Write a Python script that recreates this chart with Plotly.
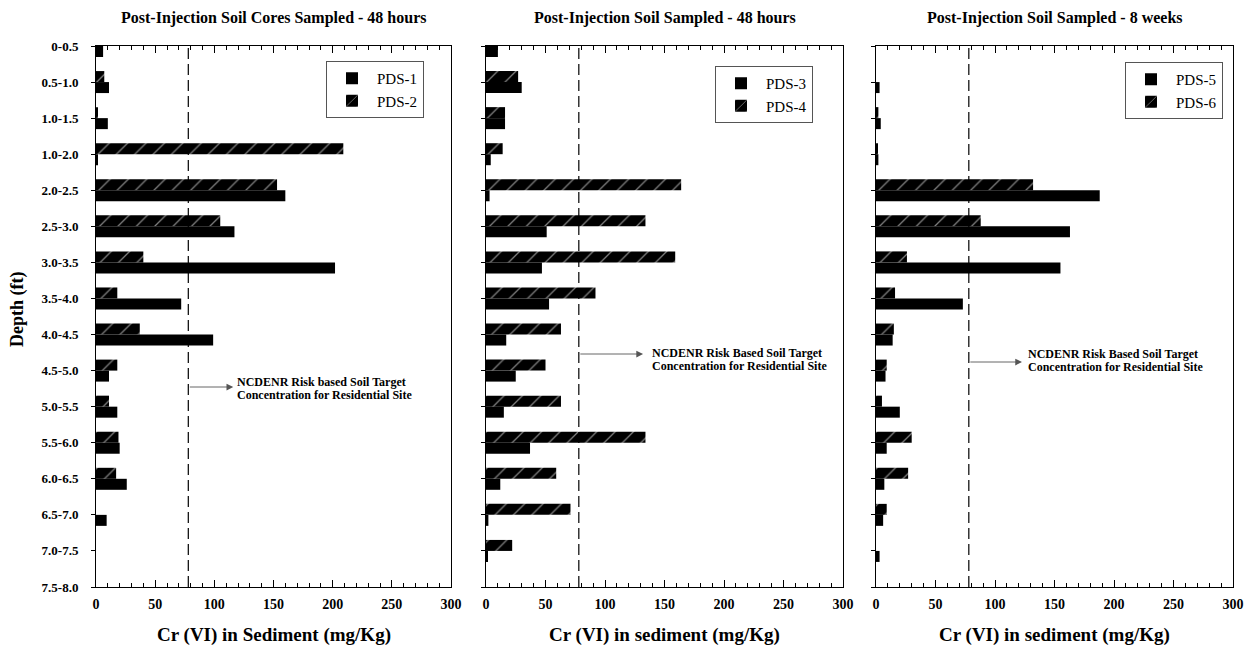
import plotly.graph_objects as go

# ---------------- data ----------------
depths = ["0-0.5", "0.5-1.0", "1.0-1.5", "1.0-2.0", "2.0-2.5", "2.5-3.0", "3.0-3.5", "3.5-4.0",
          "4.0-4.5", "4.5-5.0", "5.0-5.5", "5.5-6.0", "6.0-6.5", "6.5-7.0", "7.0-7.5", "7.5-8.0"]

pds1 = [6, 11, 10, 1, 160, 117, 202, 72, 99, 11, 18, 20, 26, 9, 0, 0]
pds2 = [0, 7, 1.5, 209, 153, 105, 40, 18, 37, 18, 11, 19, 17, 0, 0, 0]
pds3 = [10, 30, 16, 4, 3, 51, 47, 53, 17, 25, 15, 37, 12, 2, 1, 0]
pds4 = [0, 27, 16, 14, 164, 134, 159, 92, 63, 50, 63, 134, 59, 71, 22, 0]
pds5 = [0, 3, 4, 2, 188, 163, 155, 73, 14, 8, 20, 9, 7, 6, 3, 0]
pds6 = [0, 0, 2, 1, 132, 88, 26, 16, 15, 9, 5, 30, 27, 9, 0, 0]

panel_titles = ["Post-Injection Soil Cores Sampled - 48 hours",
                "Post-Injection Soil Sampled - 48 hours",
                "Post-Injection Soil Sampled - 8 weeks"]
x_titles = ["Cr (VI) in Sediment (mg/Kg)",
            "Cr (VI) in sediment (mg/Kg)",
            "Cr (VI) in sediment (mg/Kg)"]
note_line1 = ["NCDENR Risk based Soil Target",
              "NCDENR Risk Based Soil Target",
              "NCDENR Risk Based Soil Target"]
note_line2 = ["Concentration for Residential Site"] * 3
THRESHOLD = 78
X_MAX = 300

# ---------------- styling ----------------
FONT = "Liberation Serif, Times New Roman, serif"
W, H = 1252, 649
ML, MR, MT, MB = 96, 19, 46, 62
PW = W - ML - MR
PH = H - MT - MB
domains = [[0.0, 355 / PW], [390 / PW, 747 / PW], [780 / PW, 1.0]]
CAT_PX = PH / 15.0

fig = go.Figure()

pairs = [(pds1, pds2, "PDS-1", "PDS-2"),
         (pds3, pds4, "PDS-3", "PDS-4"),
         (pds5, pds6, "PDS-5", "PDS-6")]

hatch = dict(shape="/", bgcolor="black", fgcolor="white", size=13, solidity=0.1)

for i, (solid, hatched, n_solid, n_hatch) in enumerate(pairs):
    ax = "" if i == 0 else str(i + 1)
    leg = "legend" if i == 0 else f"legend{i + 1}"
    fig.add_trace(go.Bar(
        y=depths, x=hatched, orientation="h", name=n_hatch,
        xaxis="x" + ax, yaxis="y" + ax, legend=leg, legendrank=2,
        marker=dict(color="black", line=dict(width=0), pattern=hatch),
    ))
    fig.add_trace(go.Bar(
        y=depths, x=solid, orientation="h", name=n_solid,
        xaxis="x" + ax, yaxis="y" + ax, legend=leg, legendrank=1,
        marker=dict(color="black", line=dict(width=0)),
    ))

layout = dict(
    width=W, height=H, autosize=False,
    margin=dict(l=ML, r=MR, t=MT, b=MB, autoexpand=False),
    paper_bgcolor="white", plot_bgcolor="white",
    barmode="group", bargap=0.39, bargroupgap=0,
    font=dict(family=FONT, color="black"),
    showlegend=True,
)

legend_pos = [((326 - 96) / PW, 1 - (61 - 46) / PH),
              ((715 - 96) / PW, 1 - (66 - 46) / PH),
              ((1125 - 96) / PW, 1 - (62 - 46) / PH)]

for i in range(3):
    sfx = "" if i == 0 else str(i + 1)
    layout["xaxis" + sfx] = dict(
        domain=domains[i], anchor="y" + sfx, range=[0, X_MAX], automargin=False,
        tickmode="linear", tick0=0, dtick=50,
        ticks="inside", ticklen=7, tickwidth=1, tickcolor="black",
        minor=dict(dtick=10, ticks="inside", ticklen=4, tickcolor="black"),
        showline=True, linecolor="black", linewidth=1, mirror="ticks",
        showgrid=False, zeroline=False,
        tickfont=dict(family=FONT, size=14, weight="bold"),
        ticklabelstandoff=4,
    )
    layout["yaxis" + sfx] = dict(
        domain=[0, 1], anchor="x" + sfx, type="category", automargin=False,
        categoryorder="array", categoryarray=depths, range=[15, 0],
        ticks="outside", ticklen=4, tickcolor="black",
        showline=True, linecolor="black", linewidth=1, mirror=True,
        showgrid=False, zeroline=False,
        showticklabels=(i == 0),
        ticklabelstandoff=10,
        tickfont=dict(family=FONT, size=13, weight="bold"),
    )
    lg = dict(x=legend_pos[i][0], y=legend_pos[i][1], xanchor="left", yanchor="top",
              bgcolor="white", bordercolor="#555", borderwidth=1,
              font=dict(family=FONT, size=15), itemwidth=40,
              traceorder="normal")
    layout["legend" if i == 0 else f"legend{i + 1}"] = lg

fig.update_layout(**layout)

# y axis title
fig.add_annotation(xref="paper", yref="paper", x=(17 - 96) / PW, y=1 - (310 - 46) / PH,
                   text="Depth (ft)", textangle=-90, showarrow=False,
                   xanchor="center", yanchor="middle",
                   font=dict(family=FONT, size=18, weight="bold"))

# threshold lines, notes, titles   (arrow y in px from top of plot; head x; text x)
note_geo = [(386 - 45, 116, 117.5, 381 - 45, 394 - 45),
            (353 - 45, 132, 137.8, 352 - 45, 365 - 45),
            (362 - 46, 122.7, 126, 354 - 46, 367 - 46)]
for i in range(3):
    sfx = "" if i == 0 else str(i + 1)
    fig.add_shape(type="line", xref="x" + sfx, yref="y" + sfx + " domain",
                  x0=THRESHOLD, x1=THRESHOLD, y0=0, y1=1,
                  line=dict(color="black", width=1.2, dash="11px,5px"))
    ay_px, head_x, text_x, l1_px, l2_px = note_geo[i]
    ay = ay_px / CAT_PX
    fig.add_annotation(
        xref="x" + sfx, yref="y" + sfx, x=head_x, y=ay,
        axref="x" + sfx, ayref="y" + sfx, ax=THRESHOLD, ay=ay,
        text="", showarrow=True, arrowhead=2,
        arrowsize=1.5, arrowwidth=0.9, arrowcolor="#555",
    )
    for txt, lp in ((note_line1[i], l1_px), (note_line2[i], l2_px)):
        fig.add_annotation(
            xref="x" + sfx, yref="y" + sfx, x=text_x, y=lp / CAT_PX,
            text=txt, showarrow=False, xanchor="left", yanchor="middle",
            font=dict(family=FONT, size=12, weight="bold"),
        )
    fig.add_annotation(
        xref="x" + sfx + " domain", yref="paper", x=0.5, y=1 + 28 / PH,
        text=panel_titles[i], showarrow=False, xanchor="center", yanchor="middle",
        font=dict(family=FONT, size=16, weight="bold"),
    )
    fig.add_annotation(
        xref="x" + sfx + " domain", yref="paper", x=0.5, y=-(635 - 587) / PH,
        text=x_titles[i], showarrow=False, xanchor="center", yanchor="middle",
        font=dict(family=FONT, size=19, weight="bold"),
    )

# remove the default page margin so the figure fills the 1252x649 window exactly
fig.write_html("out.html",
               config={"displayModeBar": False},
               post_script="document.body.style.margin='0px';"
                           "document.body.style.overflow='hidden';")
